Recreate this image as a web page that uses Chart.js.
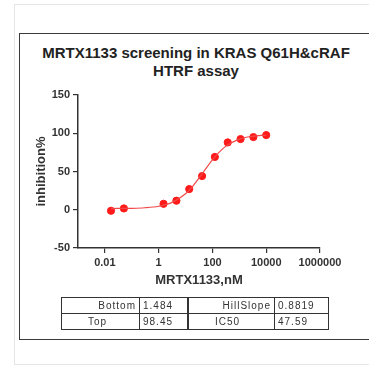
<!DOCTYPE html>
<html>
<head>
<meta charset="utf-8">
<script src="https://cdn.jsdelivr.net/npm/chart.js@4.4.1/dist/chart.umd.min.js"></script>
<style>
  html, body { margin: 0; padding: 0; background: #fff; }
  body { width: 369px; height: 368px; position: relative; overflow: hidden; font-family: "Liberation Sans", Arial, sans-serif; }
  #outer { position: absolute; left: 14px; top: 4px; width: 400px; height: 361px; border: 1px solid #e6e6e6; box-sizing: border-box; }
  #inner { position: absolute; left: 19px; top: 33px; width: 400px; height: 307px; border: 1.5px solid #3a3a3a; box-sizing: border-box; }
  #title { position: absolute; left: 20px; width: 352px; top: 44px; text-align: center; font-weight: bold; font-size: 15px; line-height: 18px; color: #222; }
  #chart { position: absolute; left: 0; top: 0; }
  table.params { position: absolute; left: 61px; top: 297px; border-collapse: collapse; font-size: 10px; color: #333; letter-spacing: 1px; }
  table.params td { border: 1px solid #333; height: 15px; padding: 0 3px; line-height: 14px; }
  table.params td.sep { border-right: 2px solid #333; }
</style>
</head>
<body>
<div id="outer"></div>
<div id="inner"></div>
<div id="title">MRTX1133 screening in KRAS Q61H&amp;cRAF<br>HTRF assay</div>
<canvas id="chart" width="369" height="368"></canvas>
<table class="params">
  <tr>
    <td style="width:71px;text-align:right">Bottom</td>
    <td class="sep" style="width:41px">1.484</td>
    <td style="width:79px;text-align:right">HillSlope</td>
    <td style="width:47px">0.8819</td>
  </tr>
  <tr>
    <td style="text-align:left;padding-left:26px">Top</td>
    <td class="sep">98.45</td>
    <td style="text-align:left;padding-left:26px">IC50</td>
    <td>47.59</td>
  </tr>
</table>
<script>
// measured points (nM, inhibition %)
const doses = [0.0169, 0.0508, 1.52, 4.57, 13.7, 41.2, 123, 370, 1111, 3333, 10000]
const inhibition = [-1.3, 1.7, 7.8, 11.8, 27, 44, 69, 88, 92.4, 95, 97.6]

// fitted curve
const curveX = [0.0169, 0.1, 0.3, 1, 3, 10, 20, 47.59, 100, 300, 1000, 3000, 10000]
const curveY = [1.6, 1.9, 2.6, 4.6, 9.3, 21, 32.3, 50, 65.3, 82.5, 92.3, 96, 97.6]

const xTicks = [0.01, 1, 100, 10000, 1000000]
const yTicks = [-50, 0, 50, 100, 150]

const red = "#ff1a1a"
const tickFont = { family: "Liberation Sans", size: 11, weight: "bold" }
const titleFont = { family: "Liberation Sans", size: 13, weight: "bold" }

const ctx = document.getElementById("chart")
new Chart(ctx, {
  type: "scatter",
  data: {
    datasets: [
      {
        label: "fit",
        data: curveX.map((x, i) => ({ x: x, y: curveY[i] })),
        showLine: true,
        borderColor: "#f04a4a",
        borderWidth: 1.2,
        pointRadius: 0,
        cubicInterpolationMode: "monotone"
      },
      {
        label: "inhibition%",
        data: doses.map((x, i) => ({ x: x, y: inhibition[i] })),
        backgroundColor: red,
        borderColor: red,
        pointRadius: 3.6,
        pointHoverRadius: 3.6
      }
    ]
  },
  options: {
    responsive: false,
    animation: false,
    devicePixelRatio: 1,
    layout: { padding: { left: 30, right: 49, top: 95, bottom: 76 } },
    plugins: { legend: { display: false }, tooltip: { enabled: false } },
    scales: {
      x: {
        type: "logarithmic",
        min: 0.001,
        max: 1000000,
        afterBuildTicks: (s) => { s.ticks = xTicks.map(v => ({ value: v })) },
        afterFit: (s) => { s.height = 44 },
        ticks: {
          color: "#333",
          font: tickFont,
          padding: 3,
          autoSkip: false,
          maxRotation: 0,
          callback: (v) => String(v)
        },
        grid: { drawOnChartArea: false, drawTicks: true, tickLength: 5, color: "#333", lineWidth: 1.2 },
        border: { display: true, color: "#333", width: 1.5 },
        title: { display: true, text: "MRTX1133,nM", color: "#333", font: titleFont, padding: { top: 0 } }
      },
      y: {
        min: -50,
        max: 150,
        afterBuildTicks: (s) => { s.ticks = yTicks.map(v => ({ value: v })) },
        afterFit: (s) => { s.width = 48 },
        ticks: { color: "#333", font: tickFont, padding: 3 },
        grid: { drawOnChartArea: false, drawTicks: true, tickLength: 5, color: "#333", lineWidth: 1.2 },
        border: { display: true, color: "#333", width: 1.5 },
        title: { display: true, text: "inhibition%", color: "#333", font: titleFont, padding: { bottom: 2 } }
      }
    }
  }
})
</script>
</body>
</html>
